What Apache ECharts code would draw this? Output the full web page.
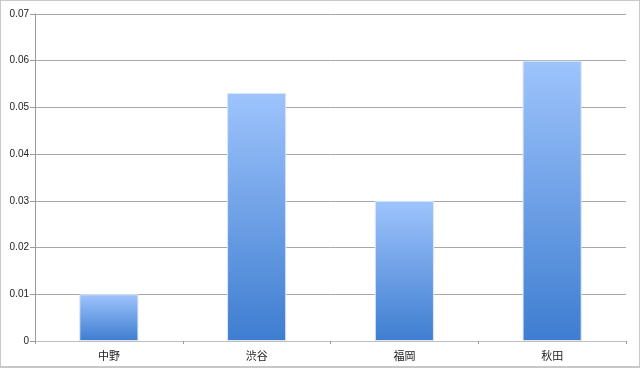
<!DOCTYPE html>
<html><head><meta charset="utf-8">
<script src="https://cdn.jsdelivr.net/npm/echarts@6/dist/echarts.min.js"></script>
<style>html,body{margin:0;padding:0;background:#fff}
#frame{position:absolute;left:0;top:0;width:638px;height:365px;border:1px solid #c8c8c8;border-right-width:2px;border-bottom-width:2px;box-sizing:content-box}
#c{width:640px;height:368px;position:absolute;left:0;top:0}</style>
</head><body>
<div id="frame"></div>
<div id="c"></div>
<script>
const categories = ['中野', '渋谷', '福岡', '秋田'];
const values = [0.01, 0.0531, 0.03, 0.06];
const yTicks = [0, 0.01, 0.02, 0.03, 0.04, 0.05, 0.06, 0.07];

const chart = echarts.init(document.getElementById('c'), null, {renderer: 'canvas'});
chart.setOption({
  animation: false,
  grid: {left: 35, right: 14, top: 14, bottom: 27, containLabel: false},
  xAxis: {
    type: 'category',
    data: categories,
    axisLine: {lineStyle: {color: '#bdbdbd', width: 1}},
    axisTick: {show: true, alignWithLabel: false, length: 3, lineStyle: {color: '#9a9a9a'}},
    axisLabel: {color: '#222', fontSize: 11, margin: 9, fontFamily: 'Noto Sans CJK JP'}
  },
  yAxis: {
    type: 'value',
    min: 0, max: 0.07, interval: 0.01,
    axisLine: {show: true, lineStyle: {color: '#9a9a9a'}},
    axisTick: {show: true, length: 5, lineStyle: {color: '#9a9a9a'}},
    splitLine: {lineStyle: {color: '#a8a8a8', width: 1}},
    axisLabel: {color: '#222', fontSize: 10, margin: 6, fontFamily: 'Liberation Sans',
      formatter: v => { const t = yTicks.find(x => Math.abs(x - v) < 1e-9); return String(t !== undefined ? t : v); }}
  },
  series: [{
    type: 'bar',
    data: values,
    barWidth: '40%',
    itemStyle: {
      borderColor: '#dde6f2', borderWidth: 1,
      color: new echarts.graphic.LinearGradient(0, 0, 0, 1, [
        {offset: 0, color: '#9ec4fc'},
        {offset: 1, color: '#3e7dd0'}
      ])
    }
  }]
});
</script>
</body></html>
